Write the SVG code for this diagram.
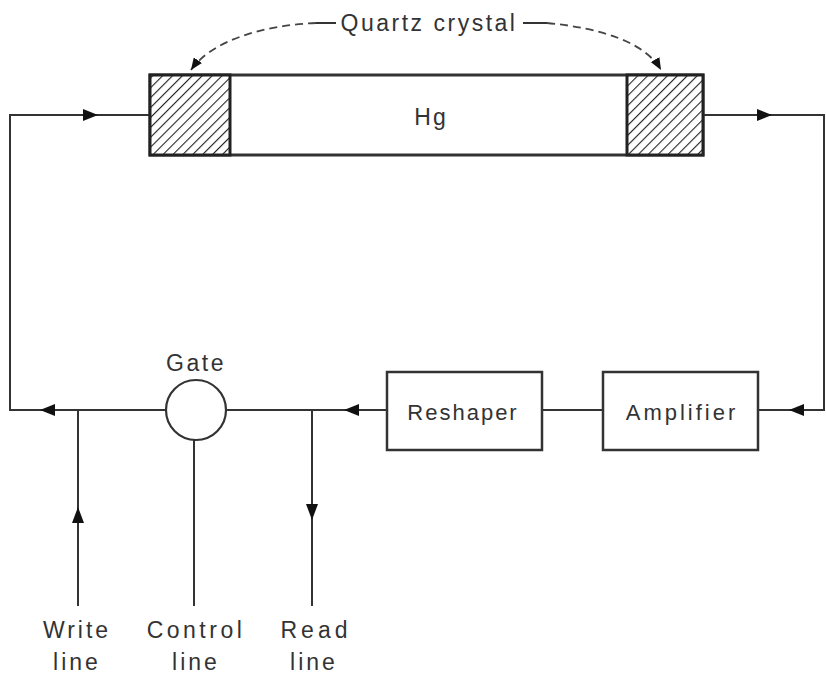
<svg xmlns="http://www.w3.org/2000/svg" width="826" height="675" viewBox="0 0 826 675">
<defs>
<pattern id="hatch" patternUnits="userSpaceOnUse" width="7" height="7" patternTransform="rotate(45)">
<rect width="7" height="7" fill="#fff"/>
<line x1="0" y1="0" x2="0" y2="7" stroke="#222" stroke-width="2.2"/>
</pattern>
<marker id="ahEnd" viewBox="0 0 12 10" refX="12" refY="5" markerWidth="12" markerHeight="10" markerUnits="userSpaceOnUse" orient="auto">
<path d="M0,0 L12,5 L0,10 Z" fill="#111"/>
</marker>
</defs>
<style>
.ln{stroke:#333;stroke-width:2;fill:none}
.box{stroke:#333;stroke-width:2.5;fill:#fff}
.t{font-family:"Liberation Sans",Arial,sans-serif;fill:#333;text-anchor:middle;font-size:23px}
.dash{stroke:#444;stroke-width:1.8;fill:none;stroke-dasharray:8 5}
</style>
<rect width="826" height="675" fill="#fff"/>
<g id="connectors">
<path class="ln" d="M150,115 H10 V410 H165"/>
<path class="ln" d="M703,115 H824 V410 H758"/>
<line class="ln" x1="603" y1="410" x2="542" y2="410"/>
<line class="ln" x1="387" y1="410" x2="226" y2="410"/>
<line class="ln" x1="78" y1="606" x2="78" y2="410"/>
<line class="ln" x1="194" y1="606" x2="194" y2="440"/>
<line class="ln" x1="312" y1="410" x2="312" y2="606"/>
<path d="M83,109 L98,115 L83,121 Z" fill="#111"/>
<path d="M757,109 L772,115 L757,121 Z" fill="#111"/>
<path d="M55,404 L40,410 L55,416 Z" fill="#111"/>
<path d="M359,404 L344,410 L359,416 Z" fill="#111"/>
<path d="M804,404 L789,410 L804,416 Z" fill="#111"/>
<path d="M72,523 L78,507 L84,523 Z" fill="#111"/>
<path d="M306,504 L312,520 L318,504 Z" fill="#111"/>
<line class="ln" x1="316" y1="23" x2="336" y2="23"/>
<line class="ln" x1="523" y1="23" x2="547" y2="23"/>
<path class="dash" d="M316,23 C265,25 212,40 191,70" marker-end="url(#ahEnd)"/>
<path class="dash" d="M547,23 C600,28 645,42 661,70" marker-end="url(#ahEnd)"/>
</g>
<g id="tube">
<rect x="150" y="75" width="553" height="80" fill="#fff" stroke="#333" stroke-width="3"/>
<rect x="150" y="75" width="80" height="80" fill="url(#hatch)" stroke="#222" stroke-width="3"/>
<rect x="627" y="75" width="76" height="80" fill="url(#hatch)" stroke="#222" stroke-width="3"/>
<text class="t" x="431" y="125" style="font-size:23px;letter-spacing:2px">Hg</text>
</g>
<g id="quartz-label">
<text class="t" x="429" y="31" style="letter-spacing:2.5px">Quartz crystal</text>
</g>
<g id="gate">
<circle cx="196" cy="410" r="30" fill="#fff" stroke="#333" stroke-width="2.2"/>
<text class="t" x="196" y="371" style="letter-spacing:2.5px">Gate</text>
</g>
<g id="reshaper">
<rect class="box" x="387" y="372" width="155" height="78"/>
<text class="t" x="463" y="420" style="font-size:22px;letter-spacing:2px">Reshaper</text>
</g>
<g id="amplifier">
<rect class="box" x="603" y="372" width="155" height="78"/>
<text class="t" x="682" y="420" style="font-size:22px;letter-spacing:3px">Amplifier</text>
</g>
<g id="labels">
<text class="t" x="77" y="638" style="letter-spacing:3px">Write</text>
<text class="t" x="77" y="670" style="letter-spacing:3px">line</text>
<text class="t" x="196" y="638" style="letter-spacing:3.5px">Control</text>
<text class="t" x="196" y="670" style="letter-spacing:3px">line</text>
<text class="t" x="316" y="638" style="letter-spacing:4px">Read</text>
<text class="t" x="314" y="670" style="letter-spacing:3px">line</text>
</g>
</svg>
